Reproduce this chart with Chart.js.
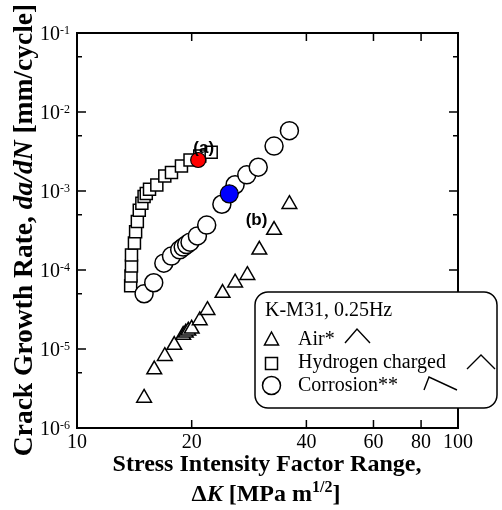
<!DOCTYPE html>
<html>
<head>
<meta charset="utf-8">
<script src="https://cdn.jsdelivr.net/npm/chart.js@4.4.1/dist/chart.umd.min.js"></script>
<style>
  html, body { margin: 0; padding: 0; background: #fff; }
</style>
</head>
<body>
<canvas id="crack-chart" width="502" height="510"></canvas>
<script>
// ΔK [MPa m^1/2] と da/dN [mm/cycle]
const airK      = [15.0, 15.95, 17.0, 18.0, 19.0, 19.3, 19.6, 20.0, 21.0, 22.0, 24.1, 26.0, 28.0, 30.1, 32.9, 36.1];
const airRate   = [2.4e-6, 5.5e-6, 8.1e-6, 1.12e-5, 1.5e-5, 1.6e-5, 1.7e-5, 1.8e-5, 2.3e-5, 3.1e-5, 5.1e-5, 6.9e-5, 8.6e-5, 1.8e-4, 3.2e-4, 6.8e-4];

const hydroK    = [13.83, 13.86, 13.9, 13.9, 14.15, 14.25, 14.4, 14.57, 14.8, 15.0, 15.2, 15.5, 16.2, 17.0, 17.7, 18.8, 19.8, 21.0, 22.5];
const hydroRate = [6.3e-5, 8.4e-5, 1.12e-4, 1.55e-4, 2.2e-4, 3.05e-4, 4.1e-4, 5.7e-4, 7.0e-4, 8.5e-4, 9.3e-4, 1.05e-3, 1.19e-3, 1.55e-3, 1.72e-3, 2.07e-3, 2.47e-3, 2.77e-3, 3.1e-3];

const corrK     = [15.0, 15.9, 16.9, 17.7, 18.6, 19.0, 19.4, 19.8, 20.7, 21.9, 24.0, 26.0, 27.9, 29.9, 32.9, 36.1];
const corrRate  = [5.0e-5, 6.9e-5, 1.22e-4, 1.5e-4, 1.8e-4, 1.95e-4, 2.1e-4, 2.25e-4, 2.7e-4, 3.7e-4, 6.8e-4, 1.2e-3, 1.6e-3, 2.0e-3, 3.7e-3, 5.8e-3];

// 塗りつぶしの点 (a), (b)
const pointA = { k: 20.8, rate: 2.47e-3 };
const pointB = { k: 25.1, rate: 9.2e-4 };
const labelA = { text: "(a)", k: 21.5, rate: 3.45e-3 };
const labelB = { text: "(b)", k: 29.6, rate: 4.3e-4 };

// 軸目盛
const xTickValues = [10, 20, 40, 60, 80, 100];
const yTickExps   = [-6, -5, -4, -3, -2, -1];

const legendTitle  = "K-M31, 0.25Hz";
const legendLabels = ["Air*", "Hydrogen charged", "Corrosion**"];

const toXY = (xs, ys) => xs.map((x, i) => ({ x: x, y: ys[i] }));

const SERIF = "'Liberation Serif', 'Times New Roman', serif";
const SANS  = "'Liberation Sans', Arial, sans-serif";

// 文字列を複数スタイルで並べて描く
function drawRuns(ctx, runs, x, y, align) {
  let total = 0;
  runs.forEach(r => { ctx.font = r.font; total += ctx.measureText(r.text).width; });
  let cx = align === "center" ? x - total / 2 : (align === "right" ? x - total : x);
  runs.forEach(r => {
    ctx.font = r.font;
    ctx.fillText(r.text, cx, y + (r.dy || 0));
    cx += ctx.measureText(r.text).width;
  });
}

const framePlugin = {
  id: "frame",
  beforeDatasetsDraw(chart) {
    const { ctx, chartArea: a } = chart;
    const xs = chart.scales.x, ys = chart.scales.y;
    ctx.save();
    ctx.strokeStyle = "#000";
    ctx.lineWidth = 2;
    ctx.strokeRect(a.left, a.top, a.right - a.left, a.bottom - a.top);

    // 内向きの目盛
    ctx.lineWidth = 1.5;
    ctx.beginPath();
    xTickValues.forEach(v => {
      const px = xs.getPixelForValue(v);
      ctx.moveTo(px, a.bottom); ctx.lineTo(px, a.bottom - 8);
      ctx.moveTo(px, a.top);    ctx.lineTo(px, a.top + 8);
    });
    yTickExps.forEach(e => {
      const py = ys.getPixelForValue(Math.pow(10, e));
      ctx.moveTo(a.left, py);  ctx.lineTo(a.left + 9, py);
      ctx.moveTo(a.right, py); ctx.lineTo(a.right - 9, py);
      if (e > -6) {
        const pm = ys.getPixelForValue(5 * Math.pow(10, e - 1));
        ctx.moveTo(a.left, pm);  ctx.lineTo(a.left + 5, pm);
        ctx.moveTo(a.right, pm); ctx.lineTo(a.right - 5, pm);
      }
    });
    ctx.stroke();

    // 目盛ラベル
    ctx.fillStyle = "#000";
    ctx.textBaseline = "alphabetic";
    xTickValues.forEach(v => {
      ctx.font = "20px " + SERIF;
      ctx.textAlign = "center";
      ctx.fillText(String(v), xs.getPixelForValue(v), a.bottom + 20);
    });
    ctx.textAlign = "left";
    yTickExps.forEach(e => {
      const py = ys.getPixelForValue(Math.pow(10, e));
      drawRuns(ctx, [
        { text: "10", font: "20px " + SERIF },
        { text: String(e), font: "12px " + SERIF, dy: -6 }
      ], a.left - 7, py + 7, "right");
    });

    // 軸タイトル
    const B = "bold 24px " + SERIF, BI = "italic bold 24px " + SERIF;
    drawRuns(ctx, [{ text: "Stress Intensity Factor Range,", font: B }], 267, 471, "center");
    drawRuns(ctx, [
      { text: "\u0394", font: B },
      { text: "K", font: BI },
      { text: " [MPa m", font: B },
      { text: "1/2", font: "bold 16px " + SERIF, dy: -9 },
      { text: "]", font: B }
    ], 266, 501, "center");

    ctx.save();
    ctx.translate(32, 230);
    ctx.rotate(-Math.PI / 2);
    const YB = "bold 27.5px " + SERIF, YBI = "italic bold 27.5px " + SERIF;
    drawRuns(ctx, [
      { text: "Crack Growth Rate, ", font: YB },
      { text: "da/dN", font: YBI },
      { text: " [mm/cycle]", font: YB }
    ], 0, 0, "center");
    ctx.restore();
    ctx.restore();
  },
  afterDatasetsDraw(chart) {
    const { ctx } = chart;
    const xs = chart.scales.x, ys = chart.scales.y;
    ctx.save();
    ctx.fillStyle = "#000";
    ctx.font = "bold 17px " + SANS;
    ctx.textAlign = "center";
    ctx.textBaseline = "middle";
    [labelA, labelB].forEach(l => {
      ctx.fillText(l.text, xs.getPixelForValue(l.k), ys.getPixelForValue(l.rate));
    });

    // 凡例
    const bx = 255, by = 292, bw = 242, bh = 116, r = 13;
    ctx.beginPath();
    ctx.roundRect(bx, by, bw, bh, r);
    ctx.fillStyle = "#fff";
    ctx.fill();
    ctx.lineWidth = 1.5;
    ctx.strokeStyle = "#000";
    ctx.stroke();

    ctx.fillStyle = "#000";
    ctx.textAlign = "left";
    ctx.textBaseline = "alphabetic";
    ctx.font = "20px " + SERIF;
    ctx.fillText(legendTitle, 265, 316);
    const baselines = [345, 368, 391];
    legendLabels.forEach((t, i) => ctx.fillText(t, 298, baselines[i]));

    ctx.lineWidth = 1.5;
    // 記号
    ctx.beginPath();
    ctx.moveTo(271.5, 332); ctx.lineTo(278.5, 345); ctx.lineTo(264.5, 345); ctx.closePath();
    ctx.stroke();
    ctx.strokeRect(265.5, 357.5, 12, 12);
    ctx.beginPath();
    ctx.arc(271.5, 385.5, 9, 0, Math.PI * 2);
    ctx.stroke();
    // 傾きの形
    ctx.lineWidth = 1.4;
    ctx.beginPath();
    ctx.moveTo(345, 343); ctx.lineTo(357, 329); ctx.lineTo(370, 343);
    ctx.moveTo(467, 369); ctx.lineTo(481, 355); ctx.lineTo(495, 369);
    ctx.moveTo(424, 390); ctx.lineTo(429, 377); ctx.lineTo(457, 390);
    ctx.stroke();
    ctx.restore();
  }
};

const ctx = document.getElementById("crack-chart").getContext("2d");
new Chart(ctx, {
  type: "scatter",
  data: {
    datasets: [
      {
        label: "A", data: [{ x: pointA.k, y: pointA.rate }], order: 0,
        pointStyle: "circle", pointRadius: 7.5, pointBackgroundColor: "#ff0000",
        pointBorderColor: "#000", pointBorderWidth: 1.2
      },
      {
        label: "B", data: [{ x: pointB.k, y: pointB.rate }], order: 1,
        pointStyle: "circle", pointRadius: 9, pointBackgroundColor: "#0000ff",
        pointBorderColor: "#000", pointBorderWidth: 1.2
      },
      {
        label: legendLabels[2], data: toXY(corrK, corrRate), order: 2,
        pointStyle: "circle", pointRadius: 9, pointBackgroundColor: "#fff",
        pointBorderColor: "#000", pointBorderWidth: 1.5
      },
      {
        label: legendLabels[1], data: toXY(hydroK, hydroRate), order: 3,
        pointStyle: "rect", pointRadius: 8.5, pointBackgroundColor: "#fff",
        pointBorderColor: "#000", pointBorderWidth: 1.5
      },
      {
        label: legendLabels[0], data: toXY(airK, airRate), order: 4,
        pointStyle: "triangle", pointRadius: 8.5, pointBackgroundColor: "#fff",
        pointBorderColor: "#000", pointBorderWidth: 1.5
      }
    ]
  },
  options: {
    responsive: false,
    animation: false,
    devicePixelRatio: 1,
    layout: { padding: { top: 33, right: 44, left: 0, bottom: 0 } },
    plugins: { legend: { display: false }, tooltip: { enabled: false } },
    scales: {
      x: {
        type: "logarithmic", min: 10, max: 100,
        ticks: { display: false }, grid: { display: false }, border: { display: false },
        afterFit(s) { s.height = 82; }
      },
      y: {
        type: "logarithmic", min: 1e-6, max: 1e-1,
        ticks: { display: false }, grid: { display: false }, border: { display: false },
        afterFit(s) { s.width = 77; }
      }
    }
  },
  plugins: [framePlugin]
});
</script>
</body>
</html>
